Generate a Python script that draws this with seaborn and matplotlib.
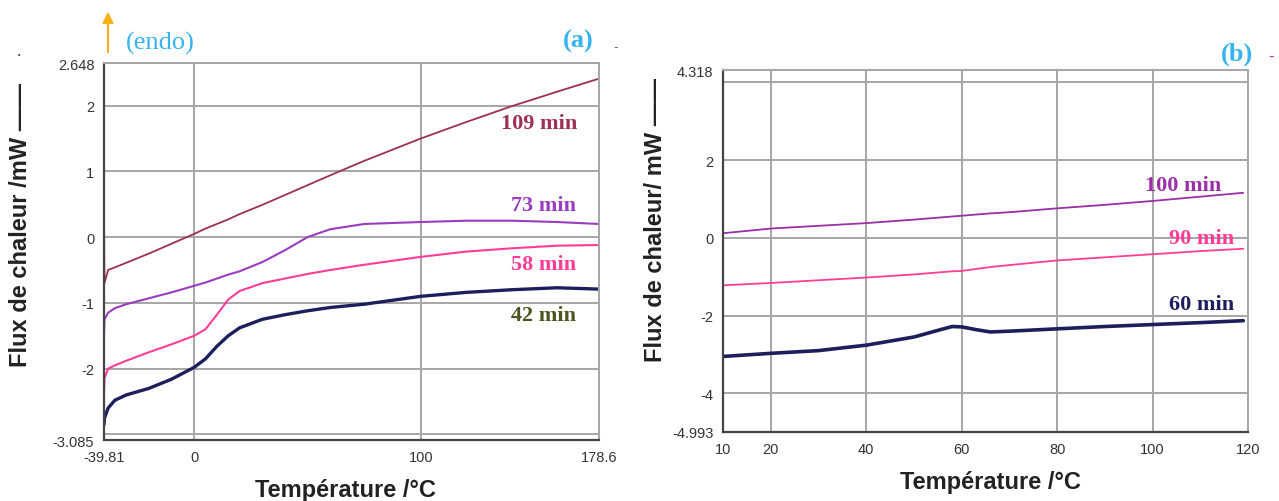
import numpy as np
import pandas as pd
import seaborn as sns
import matplotlib.pyplot as plt
from matplotlib.patches import FancyArrowPatch

# --- panel (a): DSC curves, heating after different times ---
temp_a = [-39.81, -39.6, -38, -35, -30, -20, -10, 0, 5, 10, 15, 20, 30, 40, 50, 60,
          75, 100, 120, 140, 160, 178.6]
flux_109 = [0.4, -0.7, -0.5, -0.46, -0.39, -0.25, -0.1, 0.05, 0.13, 0.2, 0.27, 0.35,
            0.49, 0.64, 0.79, 0.94, 1.16, 1.5, 1.75, 1.99, 2.21, 2.41]
flux_73 = [-1.5, -1.25, -1.15, -1.08, -1.02, -0.93, -0.84, -0.74, -0.69, -0.63, -0.57,
           -0.52, -0.38, -0.2, 0.0, 0.12, 0.2, 0.23, 0.25, 0.25, 0.23, 0.2]
flux_58 = [-2.4, -2.15, -2.0, -1.95, -1.88, -1.75, -1.63, -1.5, -1.4, -1.18, -0.95,
           -0.82, -0.7, -0.63, -0.56, -0.5, -0.42, -0.3, -0.22, -0.17, -0.13, -0.12]
flux_42 = [-2.85, -2.75, -2.6, -2.48, -2.4, -2.3, -2.16, -1.98, -1.85, -1.66, -1.5,
           -1.38, -1.25, -1.18, -1.12, -1.07, -1.02, -0.9, -0.84, -0.8, -0.77, -0.79]

# --- panel (b) ---
temp_b = [10, 20, 30, 40, 50, 55, 58, 60, 63, 66, 70, 80, 90, 100, 110, 119]
flux_100 = [0.12, 0.24, 0.31, 0.38, 0.47, 0.52, 0.55, 0.57, 0.6, 0.63, 0.66, 0.76, 0.85,
            0.95, 1.06, 1.16]
flux_90 = [-1.22, -1.16, -1.09, -1.02, -0.94, -0.89, -0.86, -0.85, -0.8, -0.75, -0.7,
           -0.58, -0.5, -0.42, -0.34, -0.28]
flux_60 = [-3.05, -2.97, -2.9, -2.76, -2.55, -2.38, -2.28, -2.29, -2.36, -2.42, -2.4,
           -2.34, -2.28, -2.23, -2.18, -2.13]

labels_a = ["109 min", "73 min", "58 min", "42 min"]
labels_b = ["100 min", "90 min", "60 min"]
colors_a = ["#9e2f55", "#9a3cc0", "#ff3d96", "#1c1f5c"]
text_colors_a = ["#9e2f55", "#9a3cc0", "#ff3d96", "#4a5520"]
widths_a = [1.3, 1.5, 1.5, 2.4]
colors_b = ["#9a2fa8", "#ff3d96", "#1c1f5c"]
text_colors_b = ["#9a2fa8", "#ff3d96", "#1c1f5c"]
widths_b = [1.3, 1.3, 2.6]

df_a = pd.DataFrame({"temp": temp_a * 4,
                     "flux": flux_109 + flux_73 + flux_58 + flux_42,
                     "serie": np.repeat(labels_a, len(temp_a))})
df_b = pd.DataFrame({"temp": temp_b * 3,
                     "flux": flux_100 + flux_90 + flux_60,
                     "serie": np.repeat(labels_b, len(temp_b))})

sns.set_style("white")
plt.rcParams["font.family"] = ["Liberation Sans", "DejaVu Sans"]

fig = plt.figure(figsize=(12.79, 5.02), dpi=100)
ax_a = fig.add_axes([0.0813, 0.1215, 0.387, 0.751])
ax_b = fig.add_axes([0.5653, 0.1375, 0.4105, 0.721])

grid_col = "#a6a6a6"


def style_axes(ax, xticks, xlabels, yticks, ylabels, ylabel, xl_pos, yl_pos):
    ax.set_xticks(xticks)
    ax.set_xticklabels(xlabels)
    ax.set_yticks(yticks)
    ax.set_yticklabels(ylabels)
    ax.grid(True, color=grid_col, linewidth=1.4)
    ax.set_axisbelow(True)
    ax.tick_params(axis="both", length=4, width=1.2, direction="out",
                   colors="#333333", labelsize=10.5, pad=3)
    for side in ["left", "bottom"]:
        ax.spines[side].set_color("#444444")
        ax.spines[side].set_linewidth(1.6)
    for side in ["top", "right"]:
        ax.spines[side].set_color(grid_col)
        ax.spines[side].set_linewidth(1.4)
    ax.set_xlabel("Température /°C", fontsize=17, fontweight="bold",
                  color="#222222")
    ax.set_ylabel(ylabel, fontsize=17, fontweight="bold", color="#222222")
    ax.xaxis.set_label_coords(*xl_pos)
    ax.yaxis.set_label_coords(*yl_pos)


for lab, col, lw in zip(labels_a, colors_a, widths_a):
    sub = df_a[df_a["serie"] == lab]
    sns.lineplot(data=sub, x="temp", y="flux", ax=ax_a, color=col, linewidth=lw,
                 sort=False, estimator=None)
ax_a.set_xlim(-39.81, 178.6)
ax_a.set_ylim(-3.085, 2.648)
style_axes(ax_a, [-39.81, 0, 100, 178.6], ["-39.81", "0", "100", "178.6"],
           [-3.085, -3, -2, -1, 0, 1, 2, 2.648],
           ["-3.085", "", "-2", "-1", "0", "1", "2", "2.648"],
           "Flux de chaleur /mW ——", (0.487, -0.10), (-0.145, 0.573))

pos_a = [(152, 1.74), (154, 0.49), (154, -0.41), (154, -1.18)]
for lab, tc, (px, py) in zip(labels_a, text_colors_a, pos_a):
    ax_a.text(px, py, lab, color=tc, fontsize=16, fontweight="bold",
              family=["Liberation Serif"], ha="center", va="center")

for lab, col, lw in zip(labels_b, colors_b, widths_b):
    sub = df_b[df_b["serie"] == lab]
    sns.lineplot(data=sub, x="temp", y="flux", ax=ax_b, color=col, linewidth=lw,
                 sort=False, estimator=None)
ax_b.set_xlim(10, 120)
ax_b.set_ylim(-4.993, 4.318)
style_axes(ax_b, [10, 20, 40, 60, 80, 100, 120],
           ["10", "20", "40", "60", "80", "100", "120"],
           [-4.993, -4, -2, 0, 2, 4, 4.318],
           ["-4.993", "-4", "-2", "0", "2", "", "4.318"],
           "Flux de chaleur/ mW ——", (0.509, -0.105), (-0.107, 0.588))

pos_b = [(106.3, 1.36), (110.3, 0.0), (110.3, -1.7)]
for lab, tc, (px, py) in zip(labels_b, text_colors_b, pos_b):
    ax_b.text(px, py, lab, color=tc, fontsize=16, fontweight="bold",
              family=["Liberation Serif"], ha="center", va="center")

# annotations around the panels
fig.add_artist(FancyArrowPatch(
    (108 / 1279, 1 - 56 / 502), (108 / 1279, 1 - 10 / 502),
    transform=fig.transFigure, arrowstyle="-|>", mutation_scale=16,
    color="#f7b117", linewidth=1.5))
fig.text(160 / 1279, 1 - 43 / 502, "(endo)", color="#35b4f0", fontsize=19,
         family=["Liberation Serif"], ha="center", va="center")
fig.text(578 / 1279, 1 - 41 / 502, "(a)", color="#35b4f0", fontsize=19,
         fontweight="bold", family=["Liberation Serif"], ha="center", va="center")
fig.text(1237 / 1279, 1 - 54 / 502, "(b)", color="#35b4f0", fontsize=19,
         fontweight="bold", family=["Liberation Serif"], ha="center", va="center")
fig.text(616 / 1279, 1 - 47 / 502, "-", color="#777777", fontsize=10,
         ha="center", va="center")
fig.text(1271 / 1279, 1 - 57 / 502, "-", color="#b03aa0", fontsize=12,
         ha="center", va="center")
fig.text(19 / 1279, 1 - 56 / 502, "•", color="#1c1f5c", fontsize=5,
         ha="center", va="center")

fig.savefig("out.png", dpi=100)
